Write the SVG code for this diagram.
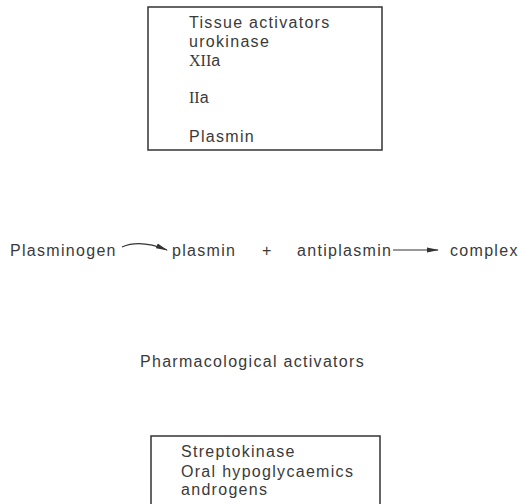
<svg xmlns="http://www.w3.org/2000/svg" width="525" height="504" viewBox="0 0 525 504">
<style>
text{font-family:"Liberation Sans",Arial,sans-serif;font-size:16px;fill:#3a3a3a;letter-spacing:1.3px}
.box{fill:none;stroke:#333;stroke-width:1.5}
.ln{fill:none;stroke:#333;stroke-width:1.2}
.rn{font-family:"Liberation Serif","Times New Roman",serif;letter-spacing:0}
</style>
<defs>
<marker id="ah" viewBox="0 0 12 6" refX="11" refY="3" markerWidth="12" markerHeight="6" markerUnits="userSpaceOnUse" orient="auto">
<path d="M0,0.5 L12,3 L0,5.5 Z" fill="#333"/>
</marker>
</defs>
<g id="tissue-activators">
<rect class="box" x="148" y="7" width="234" height="143"/>
<text x="189" y="28">Tissue activators</text>
<text x="189" y="47">urokinase</text>
<text x="189" y="66"><tspan class="rn">XII</tspan>a</text>
<text x="189" y="103"><tspan class="rn">II</tspan>a</text>
<text x="189" y="142">Plasmin</text>
</g>
<g id="plasminogen"><text x="10" y="256">Plasminogen</text></g>
<g id="plasmin"><text x="172" y="256">plasmin</text></g>
<g id="plus"><text x="262" y="256">+</text></g>
<g id="antiplasmin"><text x="297" y="256">antiplasmin</text></g>
<g id="complex"><text x="450" y="256">complex</text></g>
<g id="pharmacological"><text x="140" y="367">Pharmacological activators</text></g>
<g id="pharm-box">
<rect class="box" x="151" y="436" width="229" height="80"/>
<text x="181" y="457">Streptokinase</text>
<text x="181" y="477">Oral hypoglycaemics</text>
<text x="181" y="495">androgens</text>
</g>
<g id="connectors">
<path class="ln" d="M122,247 Q140,239 167,250" marker-end="url(#ah)"/>
<line class="ln" x1="393" y1="250" x2="438" y2="250" marker-end="url(#ah)"/>
</g>
</svg>
